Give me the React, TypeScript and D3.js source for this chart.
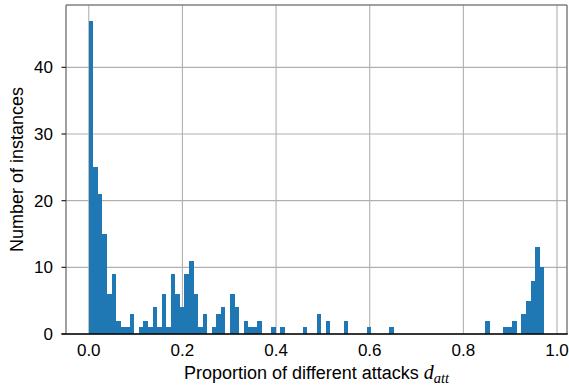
import React from "react";
import * as d3 from "d3";

const counts: number[] = [
  47, 25, 21, 15, 6, 9, 2, 1, 1, 3,
  0, 1, 2, 1, 4, 1, 6, 1, 9, 6,
  4, 9, 11, 6, 1, 3, 0, 1, 3, 4,
  0, 6, 4, 0, 2, 1, 1, 2, 0, 0,
  1, 0, 1, 0, 0, 0, 0, 1, 0, 0,
  3, 0, 2, 0, 0, 0, 2, 0, 0, 0,
  0, 1, 0, 0, 0, 0, 1, 0, 0, 0,
  0, 0, 0, 0, 0, 0, 0, 0, 0, 0,
  0, 0, 0, 0, 0, 0, 0, 2, 0, 0,
  0, 1, 1, 2, 0, 3, 5, 8, 13, 10,
];
const dataMin = 0;
const dataMax = 0.9727;
const xTicks = [0, 0.2, 0.4, 0.6, 0.8, 1.0];
const yTicks = [0, 10, 20, 30, 40];
const xLabel = "Proportion of different attacks ";
const yLabel = "Number of instances";

const W = 569;
const H = 385;
const left = 66, right = 567, top = 5, bottom = 334;

export default function App() {
  const n = counts.length;
  const binW = (dataMax - dataMin) / n;
  const span = dataMax - dataMin;
  const x = d3.scaleLinear().domain([dataMin - 0.05 * span, dataMax + 0.05 * span]).range([left, right]);
  const yMax = (d3.max(counts) as number) * 1.05;
  const y = d3.scaleLinear().domain([0, yMax]).range([bottom, top]);
  const fmt = d3.format(".1f");
  const font = "'Liberation Sans', Arial, Helvetica, sans-serif";
  const serif = "'Liberation Serif', 'DejaVu Serif', serif";
  return (
    <svg width={W} height={H} style={{ position: "absolute", left: 0, top: 0 }} fontFamily={font}>
      <rect x={0} y={0} width={W} height={H} fill="#fff" />
      {xTicks.map((t) => (
        <line key={"gx" + t} x1={x(t)} x2={x(t)} y1={top} y2={bottom} stroke="#b0b0b0" strokeWidth={1.1} />
      ))}
      {yTicks.map((t) => (
        <line key={"gy" + t} x1={left} x2={right} y1={y(t)} y2={y(t)} stroke="#b0b0b0" strokeWidth={1.1} />
      ))}
      {counts.map((c, i) =>
        c > 0 ? (
          <rect
            key={i}
            x={x(dataMin + i * binW)}
            width={x(dataMin + (i + 1) * binW) - x(dataMin + i * binW)}
            y={y(c)}
            height={y(0) - y(c)}
            fill="#1f77b4"
            shapeRendering="crispEdges"
          />
        ) : null
      )}
      <line x1={left} x2={left} y1={top} y2={bottom} stroke="#808080" strokeWidth={1.5} />
      <line x1={right} x2={right} y1={top} y2={bottom} stroke="#808080" strokeWidth={1.5} />
      <line x1={left} x2={right} y1={top} y2={top} stroke="#808080" strokeWidth={1.5} />
      <line x1={left - 4.5} x2={right + 0.75} y1={bottom} y2={bottom} stroke="#000" strokeWidth={1.5} />
      {yTicks.map((t) => (
        <g key={"ty" + t}>
          <line x1={left - 4.5} x2={left} y1={y(t)} y2={y(t)} stroke="#222" strokeWidth={1.2} />
          <text x={left - 13} y={y(t)} dy="0.36em" textAnchor="end" fontSize={17} fill="#000">
            {t}
          </text>
        </g>
      ))}
      {xTicks.map((t) => (
        <text key={"tx" + t} x={x(t)} y={bottom + 22} textAnchor="middle" fontSize={17} fill="#000">
          {fmt(t)}
        </text>
      ))}
      <text x={(left + right) / 2} y={379} textAnchor="middle" fontSize={18} fill="#000">
        {xLabel}
        <tspan fontFamily={serif} fontStyle="italic" fontSize={20}>d</tspan>
        <tspan fontFamily={serif} fontStyle="italic" fontSize={14.5} dy={4}>att</tspan>
      </text>
      <text
        transform={`translate(23, ${(top + bottom) / 2}) rotate(-90)`}
        textAnchor="middle"
        fontSize={18}
        fill="#000"
      >
        {yLabel}
      </text>
    </svg>
  );
}
